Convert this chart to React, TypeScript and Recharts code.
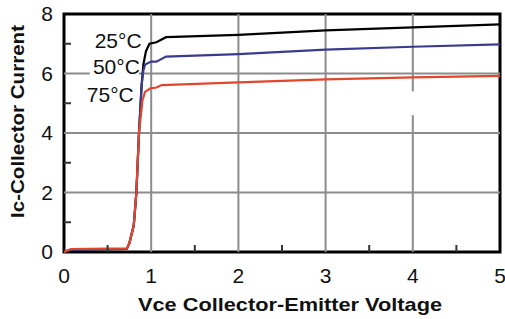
import React from 'react';
import { LineChart, Line, XAxis, YAxis, ReferenceLine, ReferenceArea, ReferenceDot } from 'recharts';

const xTicks = [0, 1, 2, 3, 4, 5];
const yTicks = [0, 2, 4, 6, 8];
const xMinor = [0.5, 1.5, 2.5, 3.5, 4.5];
const yMinor = [1, 3, 5, 7];
const xGrid = [1, 2, 3];
const yGrid = [2, 4, 6];

const vce25 = [0, 0.08, 0.72, 0.75, 0.8, 0.83, 0.86, 0.89, 0.91, 0.94, 0.98, 1.06, 1.17, 2, 3, 4, 5];
const ic25 = [0, 0.08, 0.1, 0.3, 0.9, 2.0, 4.0, 5.6, 6.3, 6.75, 7.0, 7.05, 7.22, 7.3, 7.45, 7.55, 7.65];
const vce50 = [0, 0.08, 0.72, 0.75, 0.8, 0.83, 0.86, 0.89, 0.91, 0.93, 1.0, 1.06, 1.17, 2, 3, 4, 5];
const ic50 = [0, 0.08, 0.1, 0.3, 0.9, 2.0, 4.0, 5.6, 6.1, 6.3, 6.4, 6.4, 6.57, 6.65, 6.8, 6.9, 6.98];
const vce75 = [0, 0.08, 0.72, 0.75, 0.8, 0.83, 0.86, 0.9, 0.93, 0.99, 1.06, 1.12, 2, 3, 4, 5];
const ic75 = [0, 0.1, 0.12, 0.3, 0.9, 2.0, 4.0, 5.1, 5.38, 5.5, 5.53, 5.61, 5.7, 5.8, 5.87, 5.92];

const labels = [
  { text: '25°C', x: 0.89, y: 7.1 },
  { text: '50°C', x: 0.87, y: 6.22 },
  { text: '75°C', x: 0.8, y: 5.3 },
];

const zip = (xs: number[], ys: number[]) => xs.map((x, i) => ({ x, y: ys[i] }));
const d25 = zip(vce25, ic25);
const d50 = zip(vce50, ic50);
const d75 = zip(vce75, ic75);

const FONT = '"Liberation Sans", Arial, sans-serif';

const YTick = (props: any) => {
  const { x, y, payload } = props;
  return (
    <text x={x} y={y} dy={7} textAnchor="end" fontFamily={FONT} fontSize={21} fill="#111">
      {payload.value}
    </text>
  );
};

const XTick = (props: any) => {
  const { x, y, payload } = props;
  return (
    <text x={x} y={y + 31} textAnchor="middle" fontFamily={FONT} fontSize={21} fill="#111">
      {payload.value}
    </text>
  );
};

const TempLabel = (props: any) => {
  const { cx, cy, text } = props;
  return (
    <g>
      <rect x={cx - 50} y={cy - 11} width={49} height={22} fill="#fff" />
      <text x={cx} y={cy} dy={7.5} textAnchor="end" fontFamily={FONT} fontSize={21} fill="#111">
        {text}
      </text>
    </g>
  );
};

const MinorTickY = (props: any) => {
  const { cx, cy } = props;
  return <line x1={cx} x2={cx + 7} y1={cy} y2={cy} stroke="#333" strokeWidth={2} />;
};

const MinorTickX = (props: any) => {
  const { cx, cy } = props;
  return <line x1={cx} x2={cx} y1={cy} y2={cy - 7} stroke="#333" strokeWidth={2} />;
};

export default function App() {
  return (
    <div style={{ position: 'absolute', left: 0, top: 0, background: '#fff' }}>
      <LineChart width={505} height={319} margin={{ top: 14, right: 5, bottom: 0, left: 0 }}>
        <XAxis
          type="number"
          dataKey="x"
          domain={[0, 5]}
          ticks={xTicks}
          interval={0}
          tick={<XTick />}
          tickLine={false}
          tickSize={0}
          tickMargin={0}
          axisLine={false}
          height={67}
          allowDuplicatedCategory={false}
          label={{
            content: (p: any) => {
              const vb = p.viewBox;
              return (
                <text
                  x={vb.x + vb.width / 2 + 8}
                  y={vb.y + 59}
                  textAnchor="middle"
                  fontFamily={FONT}
                  fontWeight="bold"
                  fontSize={19}
                  fill="#111"
                  textLength={304}
                  lengthAdjust="spacingAndGlyphs"
                >
                  Vce Collector-Emitter Voltage
                </text>
              );
            },
          }}
        />
        <YAxis
          type="number"
          dataKey="y"
          domain={[0, 8]}
          ticks={yTicks}
          interval={0}
          tick={<YTick />}
          tickLine={false}
          tickSize={0}
          tickMargin={11}
          axisLine={false}
          width={64}
          label={{
            content: (p: any) => {
              const vb = p.viewBox;
              const cx = 17;
              const cy = vb.y + vb.height / 2 - 11.5;
              return (
                <text
                  x={cx}
                  y={cy}
                  dy={6.5}
                  transform={`rotate(-90 ${cx} ${cy})`}
                  textAnchor="middle"
                  fontFamily={FONT}
                  fontWeight="bold"
                  fontSize={19}
                  fill="#111"
                  textLength={193}
                  lengthAdjust="spacingAndGlyphs"
                >
                  Ic-Collector Current
                </text>
              );
            },
          }}
        />
        {yGrid.map((v) => (
          <ReferenceLine key={'gy' + v} y={v} stroke="#8c8c8c" strokeWidth={2} />
        ))}
        {xGrid.map((v) => (
          <ReferenceLine key={'gx' + v} x={v} stroke="#8c8c8c" strokeWidth={2} />
        ))}
        <ReferenceLine segment={[{ x: 4, y: 0 }, { x: 4, y: 4.6 }]} stroke="#8c8c8c" strokeWidth={2} />
        <ReferenceLine segment={[{ x: 4, y: 5.4 }, { x: 4, y: 8 }]} stroke="#8c8c8c" strokeWidth={2} />
        {yMinor.map((v) => (
          <ReferenceDot key={'my' + v} x={0} y={v} r={0} ifOverflow="visible" shape={(p: any) => <MinorTickY {...p} />} />
        ))}
        {xMinor.map((v) => (
          <ReferenceDot key={'mx' + v} x={v} y={0} r={0} ifOverflow="visible" shape={(p: any) => <MinorTickX {...p} />} />
        ))}
        {labels.map((l) => (
          <ReferenceDot
            key={l.text}
            x={l.x}
            y={l.y}
            r={0}
            shape={(p: any) => <TempLabel {...p} text={l.text} />}
          />
        ))}
        <ReferenceArea x1={0} x2={5} y1={0} y2={8} fill="none" stroke="#000" strokeWidth={3} />
        <Line data={d25} dataKey="y" type="linear" stroke="#000" strokeWidth={2.2} dot={false} isAnimationActive={false} />
        <Line data={d50} dataKey="y" type="linear" stroke="#3b3b8e" strokeWidth={2.2} dot={false} isAnimationActive={false} />
        <Line data={d75} dataKey="y" type="linear" stroke="#e0472d" strokeWidth={2.2} dot={false} isAnimationActive={false} />
      </LineChart>
    </div>
  );
}
